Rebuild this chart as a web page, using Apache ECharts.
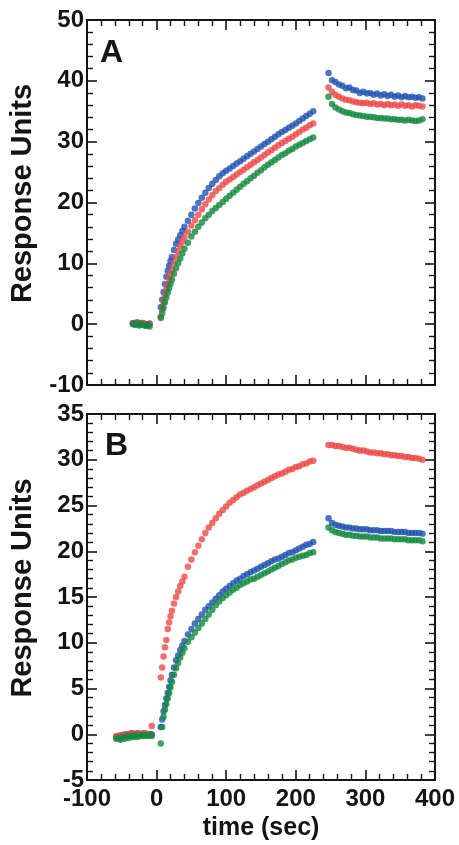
<!DOCTYPE html>
<html>
<head>
<meta charset="utf-8">
<script src="https://cdn.jsdelivr.net/npm/echarts@6/dist/echarts.min.js"></script>
<style>
  html, body { margin: 0; padding: 0; background: #ffffff; }
  #chart { width: 459px; height: 845px; }
</style>
</head>
<body>
<div id="chart"></div>
<script>
// ---------- DATA ----------
const timeBaseA = [-34, -31, -28, -25, -22, -19, -16, -13, -10];
const timeBaseB = [-58, -55, -52, -49, -46, -43, -40, -37, -34, -31, -28, -25, -22, -19, -16, -13, -10, -7];
const timeAssoc = [6, 8, 10, 12, 14, 16, 18, 20, 22, 25, 28, 31, 34, 37, 40,
  45, 50, 55, 60, 65, 70, 75, 80, 85, 90, 95, 100, 105, 110, 115, 120, 125, 130, 135, 140,
  145, 150, 155, 160, 165, 170, 175, 180, 185, 190, 195, 200, 205, 210, 215, 220, 225];
const timeDiss = [247, 252, 257, 262, 267, 272, 277, 282, 287, 292, 297, 302, 307, 312,
  317, 322, 327, 332, 337, 342, 347, 352, 357, 362, 367, 372, 377, 382];

// Panel A
const aBlueBase = [0.2, 0.1, 0.3, 0.0, 0.2, 0.1, -0.1, 0.0, 0.1];
const aRedBase = [0.1, 0.0, 0.2, 0.1, -0.1, 0.2, 0.0, -0.2, 0.0];
const aGreenBase = [0.0, -0.1, 0.1, -0.2, 0.0, -0.1, -0.3, -0.1, -0.4];
const aBlueAssoc = [2.8, 4.0, 5.3, 6.6, 7.8, 8.8, 9.6, 10.4, 11.0, 12.2, 13.2, 13.9, 14.6, 15.3, 16.0,
  17.0, 18.0, 19.0, 19.9, 20.8, 21.6, 22.4, 23.1, 23.7, 24.3, 24.8, 25.2, 25.6, 26.0, 26.4, 26.8, 27.2, 27.6, 28.0, 28.4,
  28.8, 29.2, 29.6, 30.0, 30.4, 30.8, 31.2, 31.6, 31.9, 32.3, 32.6, 33.0, 33.4, 33.8, 34.2, 34.6, 35.0];
const aRedAssoc = [1.2, 2.4, 3.6, 4.7, 5.7, 6.6, 7.5, 8.2, 9.0, 10.1, 11.1, 12.0, 12.9, 13.6, 14.3,
  15.2, 16.2, 17.1, 18.0, 18.9, 19.7, 20.5, 21.2, 21.9, 22.4, 22.9, 23.4, 23.8, 24.2, 24.6, 25.0, 25.4, 25.8, 26.2, 26.6,
  27.0, 27.4, 27.8, 28.2, 28.6, 29.0, 29.4, 29.8, 30.1, 30.5, 30.8, 31.2, 31.6, 32.0, 32.3, 32.7, 33.0];
const aGreenAssoc = [1.0, 1.8, 2.7, 3.6, 4.4, 5.2, 5.9, 6.6, 7.3, 8.3, 9.2, 10.0, 10.8, 11.6, 12.4,
  13.4, 14.4, 15.2, 16.0, 16.7, 17.4, 18.0, 18.6, 19.1, 19.6, 20.1, 20.6, 21.1, 21.6, 22.1, 22.6, 23.1, 23.5, 24.0, 24.4,
  24.9, 25.3, 25.8, 26.2, 26.6, 27.0, 27.4, 27.8, 28.1, 28.5, 28.8, 29.2, 29.5, 29.8, 30.1, 30.4, 30.7];
const aBlueDiss = [41.3, 40.1, 39.8, 39.4, 39.2, 38.8, 38.9, 38.5, 38.4, 38.0, 38.2, 37.9, 38.0, 37.7,
  37.9, 37.6, 37.8, 37.5, 37.7, 37.4, 37.6, 37.3, 37.5, 37.3, 37.4, 37.2, 37.3, 37.1];
const aRedDiss = [38.9, 38.2, 37.7, 37.4, 37.1, 36.9, 36.8, 36.6, 36.5, 36.4, 36.3, 36.4, 36.2, 36.3,
  36.1, 36.2, 36.0, 36.2, 36.0, 36.1, 35.9, 36.1, 35.9, 36.0, 35.8, 36.0, 35.9, 35.8];
const aGreenDiss = [37.4, 36.2, 35.6, 35.3, 35.0, 34.8, 34.7, 34.5, 34.4, 34.3, 34.2, 34.1, 34.1, 34.0,
  33.9, 33.9, 33.8, 33.8, 33.7, 33.7, 33.6, 33.6, 33.5, 33.6, 33.5, 33.4, 33.5, 33.7];

// Panel B
const bBlueBase = [-0.3, -0.2, -0.4, -0.1, -0.2, 0.0, -0.1, 0.1, -0.1, 0.0, 0.1, -0.1, 0.0, 0.1, 0.0, -0.1, 0.0, 0.0];
const bRedBase = [-0.2, -0.3, -0.1, -0.2, 0.0, -0.1, 0.0, -0.2, 0.1, -0.1, 0.0, 0.1, -0.1, 0.0, 0.1, 0.0, -0.1, 0.9];
const bGreenBase = [-0.5, -0.4, -0.6, -0.3, -0.5, -0.2, -0.4, -0.2, -0.3, -0.1, -0.3, -0.2, -0.1, -0.2, -0.1, -0.2, -0.1, -0.2];
const bBlueAssoc = [0.8, 1.6, 2.5, 3.2, 3.9, 4.5, 5.2, 5.9, 6.5, 7.3, 8.1, 8.6, 9.2, 9.7, 10.2,
  10.9, 11.5, 12.1, 12.6, 13.1, 13.6, 14.0, 14.4, 14.8, 15.2, 15.6, 15.9, 16.2, 16.5, 16.8, 17.0, 17.3, 17.5, 17.7, 17.9,
  18.1, 18.3, 18.5, 18.7, 18.9, 19.1, 19.2, 19.4, 19.6, 19.8, 19.9, 20.1, 20.3, 20.5, 20.7, 20.8, 21.0];
const bRedAssoc = [6.2, 7.3, 8.5, 9.5, 10.3, 11.5, 12.2, 12.9, 13.5, 14.3, 15.0, 15.6, 16.2, 16.7, 17.2,
  18.3, 19.1, 19.9, 20.6, 21.3, 22.0, 22.6, 23.1, 23.6, 24.1, 24.5, 24.9, 25.3, 25.6, 25.9, 26.2, 26.4, 26.6, 26.8, 27.0,
  27.2, 27.4, 27.6, 27.8, 28.0, 28.2, 28.4, 28.5, 28.7, 28.9, 29.0, 29.2, 29.3, 29.5, 29.6, 29.8, 29.9];
const bGreenAssoc = [-1.0, 0.8, 1.9, 2.7, 3.3, 3.9, 4.5, 5.1, 5.7, 6.5, 7.2, 7.8, 8.4, 8.9, 9.4,
  10.1, 10.6, 11.1, 11.6, 12.1, 12.6, 13.1, 13.6, 14.1, 14.5, 14.9, 15.2, 15.5, 15.8, 16.0, 16.3, 16.5, 16.7, 16.9, 17.0,
  17.2, 17.4, 17.6, 17.8, 18.0, 18.2, 18.4, 18.6, 18.8, 19.0, 19.1, 19.3, 19.4, 19.5, 19.6, 19.8, 19.9];
const bBlueDiss = [23.6, 23.1, 22.9, 22.8, 22.7, 22.6, 22.6, 22.5, 22.5, 22.4, 22.4, 22.4, 22.3, 22.3,
  22.3, 22.2, 22.2, 22.2, 22.2, 22.1, 22.1, 22.1, 22.1, 22.0, 22.0, 22.0, 22.0, 21.9];
const bRedDiss = [31.6, 31.6, 31.5, 31.5, 31.4, 31.3, 31.3, 31.2, 31.1, 31.0, 31.0, 30.9, 30.8, 30.8,
  30.7, 30.7, 30.6, 30.6, 30.5, 30.5, 30.4, 30.4, 30.3, 30.3, 30.2, 30.2, 30.1, 30.0];
const bGreenDiss = [22.6, 22.3, 22.1, 22.0, 21.9, 21.8, 21.8, 21.7, 21.7, 21.6, 21.6, 21.6, 21.5, 21.5,
  21.5, 21.4, 21.4, 21.4, 21.4, 21.3, 21.3, 21.3, 21.3, 21.2, 21.2, 21.2, 21.2, 21.1];

const panelLabels = ['A', 'B'];
const yAxisTitle = 'Response Units';
const xAxisTitle = 'time (sec)';

// ---------- BUILD ----------
const FONT = "'Liberation Sans', Arial, Helvetica, sans-serif";
const INK = '#141414';
const COLORS = { blue: '#1f52b3', red: '#ee4a46', green: '#138a3e' };
const DOT = 6.5;

function pts(ts, vs) { return ts.map((t, i) => [t, vs[i]]); }
function seg(base, tb, assoc, diss) {
  return [].concat(pts(tb, base), pts(timeAssoc, assoc), pts(timeDiss, diss));
}

function axisCommon(extra) {
  return Object.assign({
    type: 'value',
    axisLine: { show: true, onZero: false, lineStyle: { color: INK, width: 2 } },
    axisTick: { show: true, inside: true, length: 10, lineStyle: { color: INK, width: 1.6 } },
    minorTick: { show: true, splitNumber: 5, length: 6, lineStyle: { color: INK, width: 1.4 } },
    splitLine: { show: false },
    minorSplitLine: { show: false }
  }, extra);
}
const labelStyle = { show: true, color: INK, fontFamily: FONT, fontWeight: 'bold', fontSize: 24 };
const yNameStyle = { color: INK, fontFamily: FONT, fontWeight: 'bold', fontSize: 29, padding: [0, 0, 0, 18] };

const xBase = { min: -100, max: 400, interval: 100 };
const yA = { min: -10, max: 50, interval: 10 };
const yB = { min: -5, max: 35, interval: 5 };

const option = {
  animation: false,
  backgroundColor: '#ffffff',
  grid: [
    { left: 87, top: 20, width: 348, height: 365 },
    { left: 87, top: 414, width: 348, height: 366 }
  ],
  xAxis: [
    axisCommon(Object.assign({ gridIndex: 0, position: 'bottom', axisLabel: { show: false } }, xBase)),
    axisCommon(Object.assign({ gridIndex: 0, position: 'top', axisLabel: { show: false } }, xBase)),
    axisCommon(Object.assign({
      gridIndex: 1, position: 'bottom',
      axisLabel: Object.assign({ margin: 7 }, labelStyle),
      name: xAxisTitle, nameLocation: 'middle', nameGap: 36,
      nameTextStyle: { color: INK, fontFamily: FONT, fontWeight: 'bold', fontSize: 25 }
    }, xBase)),
    axisCommon(Object.assign({ gridIndex: 1, position: 'top', axisLabel: { show: false } }, xBase))
  ],
  yAxis: [
    axisCommon(Object.assign({
      gridIndex: 0, position: 'left',
      axisLabel: Object.assign({ margin: 3 }, labelStyle),
      name: yAxisTitle, nameLocation: 'middle', nameGap: 50, nameTextStyle: yNameStyle
    }, yA)),
    axisCommon(Object.assign({ gridIndex: 0, position: 'right', axisLabel: { show: false } }, yA)),
    axisCommon(Object.assign({
      gridIndex: 1, position: 'left',
      axisLabel: Object.assign({ margin: 3 }, labelStyle),
      name: yAxisTitle, nameLocation: 'middle', nameGap: 50, nameTextStyle: yNameStyle
    }, yB)),
    axisCommon(Object.assign({ gridIndex: 1, position: 'right', axisLabel: { show: false } }, yB))
  ],
  graphic: [
    { type: 'text', left: 100, top: 37, style: { text: panelLabels[0], font: "bold 32px " + FONT, fill: INK } },
    { type: 'text', left: 105, top: 430, style: { text: panelLabels[1], font: "bold 32px " + FONT, fill: INK } }
  ],
  series: [
    { name: 'A blue', type: 'scatter', xAxisIndex: 0, yAxisIndex: 0, symbolSize: DOT, itemStyle: { color: COLORS.blue },
      data: seg(aBlueBase, timeBaseA, aBlueAssoc, aBlueDiss) },
    { name: 'A red', type: 'scatter', xAxisIndex: 0, yAxisIndex: 0, symbolSize: DOT, itemStyle: { color: COLORS.red },
      data: seg(aRedBase, timeBaseA, aRedAssoc, aRedDiss) },
    { name: 'A green', type: 'scatter', xAxisIndex: 0, yAxisIndex: 0, symbolSize: DOT, itemStyle: { color: COLORS.green },
      data: seg(aGreenBase, timeBaseA, aGreenAssoc, aGreenDiss) },
    { name: 'B blue', type: 'scatter', xAxisIndex: 2, yAxisIndex: 2, symbolSize: DOT, itemStyle: { color: COLORS.blue },
      data: seg(bBlueBase, timeBaseB, bBlueAssoc, bBlueDiss) },
    { name: 'B red', type: 'scatter', xAxisIndex: 2, yAxisIndex: 2, symbolSize: DOT, itemStyle: { color: COLORS.red },
      data: seg(bRedBase, timeBaseB, bRedAssoc, bRedDiss) },
    { name: 'B green', type: 'scatter', xAxisIndex: 2, yAxisIndex: 2, symbolSize: DOT, itemStyle: { color: COLORS.green },
      data: seg(bGreenBase, timeBaseB, bGreenAssoc, bGreenDiss) }
  ]
};

const chart = echarts.init(document.getElementById('chart'), null, { renderer: 'canvas' });
chart.setOption(option);
</script>
</body>
</html>
